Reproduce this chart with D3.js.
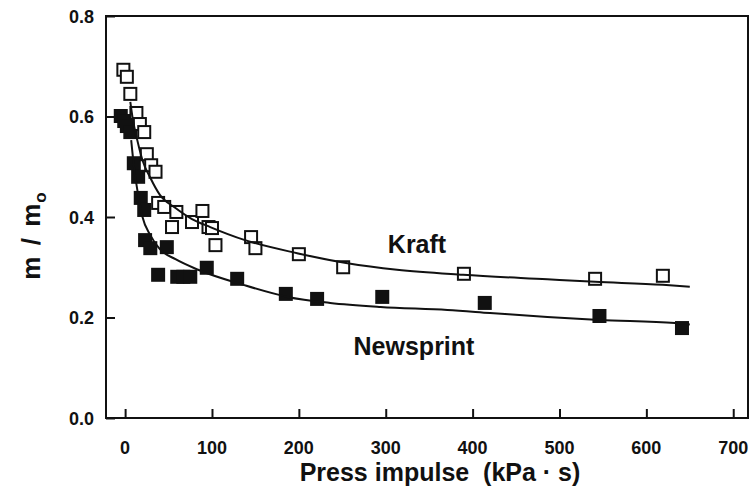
<!DOCTYPE html>
<html>
<head>
<meta charset="utf-8">
<script src="https://cdn.jsdelivr.net/npm/d3@7"></script>
<style>
  body { margin: 0; background: #fff; }
  svg { display: block; font-family: "Liberation Sans", Arial, sans-serif; }
</style>
</head>
<body>
<svg id="chart" width="750" height="488"></svg>
<script>
// measured points, Kraft (open squares)
const kraftX = [-2, 2, 6, 13, 17, 22, 25, 30, 35, 38, 45, 54, 59, 77, 89, 96, 100, 104, 145, 150, 200, 251, 390, 541, 619]
const kraftY = [0.693, 0.679, 0.645, 0.607, 0.585, 0.569, 0.525, 0.503, 0.490, 0.428, 0.420, 0.380, 0.410, 0.390, 0.412, 0.380, 0.378, 0.344, 0.360, 0.338, 0.326, 0.300, 0.287, 0.277, 0.283]

// measured points, Newsprint (filled squares)
const newsX = [-5, -1, 2, 6, 10, 15, 18, 22, 23, 29, 48, 38, 60, 67, 75, 94, 129, 185, 221, 296, 414, 546, 641]
const newsY = [0.601, 0.591, 0.581, 0.569, 0.507, 0.480, 0.438, 0.414, 0.354, 0.338, 0.340, 0.285, 0.281, 0.281, 0.281, 0.299, 0.277, 0.247, 0.237, 0.241, 0.229, 0.203, 0.179]

// fitted curves
const kraftFitX = [6, 9, 14, 20, 29, 40, 58, 77, 98, 138, 198, 256, 313, 389, 486, 541, 619, 650]
const kraftFitY = [0.629, 0.593, 0.553, 0.513, 0.478, 0.444, 0.418, 0.396, 0.380, 0.354, 0.328, 0.308, 0.295, 0.285, 0.276, 0.271, 0.265, 0.261]
const newsFitX = [7, 10, 15, 20, 29, 40, 58, 84, 136, 187, 236, 294, 371, 420, 486, 546, 633, 650]
const newsFitY = [0.553, 0.503, 0.444, 0.400, 0.364, 0.336, 0.316, 0.295, 0.265, 0.241, 0.229, 0.221, 0.215, 0.209, 0.201, 0.195, 0.189, 0.186]

const xTicks = [0, 100, 200, 300, 400, 500, 600, 700]
const yTicks = [0.0, 0.2, 0.4, 0.6, 0.8]

const plotL = 106, plotR = 748, plotT = 16, plotB = 418
const sq = 14

const svg = d3.select('#chart')

const x = d3.scaleLinear().domain([-22, 717]).range([plotL, plotR])
const y = d3.scaleLinear().domain([0, 0.8]).range([plotB, plotT])

// frame
svg.append('rect')
  .attr('x', plotL).attr('y', plotT)
  .attr('width', plotR - plotL).attr('height', plotB - plotT)
  .attr('fill', 'none').attr('stroke', '#111').attr('stroke-width', 2)

// axes, ticks point inward
let xAxis = svg.append('g')
  .attr('transform', `translate(0,${plotB})`)
  .call(d3.axisTop(x).tickValues(xTicks).tickSize(9).tickFormat(''))
xAxis.select('.domain').remove()
xAxis.selectAll('line').attr('stroke', '#111').attr('stroke-width', 2)

let yAxis = svg.append('g')
  .attr('transform', `translate(${plotL},0)`)
  .call(d3.axisRight(y).tickValues(yTicks).tickSize(9).tickFormat(''))
yAxis.select('.domain').remove()
yAxis.selectAll('line').attr('stroke', '#111').attr('stroke-width', 2)

// tick labels
svg.selectAll('.xlab')
  .data(xTicks)
  .enter()
  .append('text')
  .attr('x', d => x(d))
  .attr('y', 454)
  .attr('text-anchor', 'middle')
  .attr('font-size', 18)
  .attr('font-weight', 'bold')
  .attr('fill', '#111')
  .text(d => d)

svg.selectAll('.ylab')
  .data(yTicks)
  .enter()
  .append('text')
  .attr('x', 94)
  .attr('y', d => y(d) + 6.5)
  .attr('text-anchor', 'end')
  .attr('font-size', 18)
  .attr('font-weight', 'bold')
  .attr('fill', '#111')
  .text(d => d.toFixed(1))

// axis titles
svg.append('text')
  .attr('x', 440)
  .attr('y', 481)
  .attr('text-anchor', 'middle')
  .attr('font-size', 25)
  .attr('font-weight', 'bold')
  .attr('fill', '#111')
  .attr('xml:space', 'preserve')
  .text('Press impulse  (kPa \u00b7 s)')

let yt = svg.append('text')
  .attr('transform', 'translate(40,236) rotate(-90)')
  .attr('text-anchor', 'middle')
  .attr('font-size', 26)
  .attr('font-weight', 'bold')
  .attr('word-spacing', 4)
  .attr('fill', '#111')
yt.append('tspan').text('m / m')
yt.append('tspan').attr('font-size', 17).attr('dx', 1).attr('dy', 6).text('o')

// fit lines
const line = d3.line()
  .x(d => x(d[0]))
  .y(d => y(d[1]))
  .curve(d3.curveMonotoneX)

let kraftFit = d3.zip(kraftFitX, kraftFitY)
let newsFit = d3.zip(newsFitX, newsFitY)

// filled squares
svg.selectAll('.news')
  .data(d3.zip(newsX, newsY))
  .enter()
  .append('rect')
  .attr('x', d => x(d[0]) - sq / 2)
  .attr('y', d => y(d[1]) - sq / 2)
  .attr('width', sq).attr('height', sq)
  .attr('fill', '#111')

// open squares
svg.selectAll('.kraft')
  .data(d3.zip(kraftX, kraftY))
  .enter()
  .append('rect')
  .attr('x', d => x(d[0]) - (sq - 2) / 2)
  .attr('y', d => y(d[1]) - (sq - 2) / 2)
  .attr('width', sq - 2).attr('height', sq - 2)
  .attr('fill', '#fff')
  .attr('stroke', '#111')
  .attr('stroke-width', 2)

;[kraftFit, newsFit].forEach(pts => {
  svg.append('path')
    .attr('d', line(pts))
    .attr('fill', 'none')
    .attr('stroke', '#111')
    .attr('stroke-width', 2)
})

// series labels
svg.append('text')
  .attr('x', 417).attr('y', 253)
  .attr('text-anchor', 'middle')
  .attr('font-size', 25)
  .attr('font-weight', 'bold')
  .attr('fill', '#111')
  .text('Kraft')

svg.append('text')
  .attr('x', 414).attr('y', 355)
  .attr('text-anchor', 'middle')
  .attr('font-size', 25)
  .attr('font-weight', 'bold')
  .attr('fill', '#111')
  .text('Newsprint')
</script>
</body>
</html>
